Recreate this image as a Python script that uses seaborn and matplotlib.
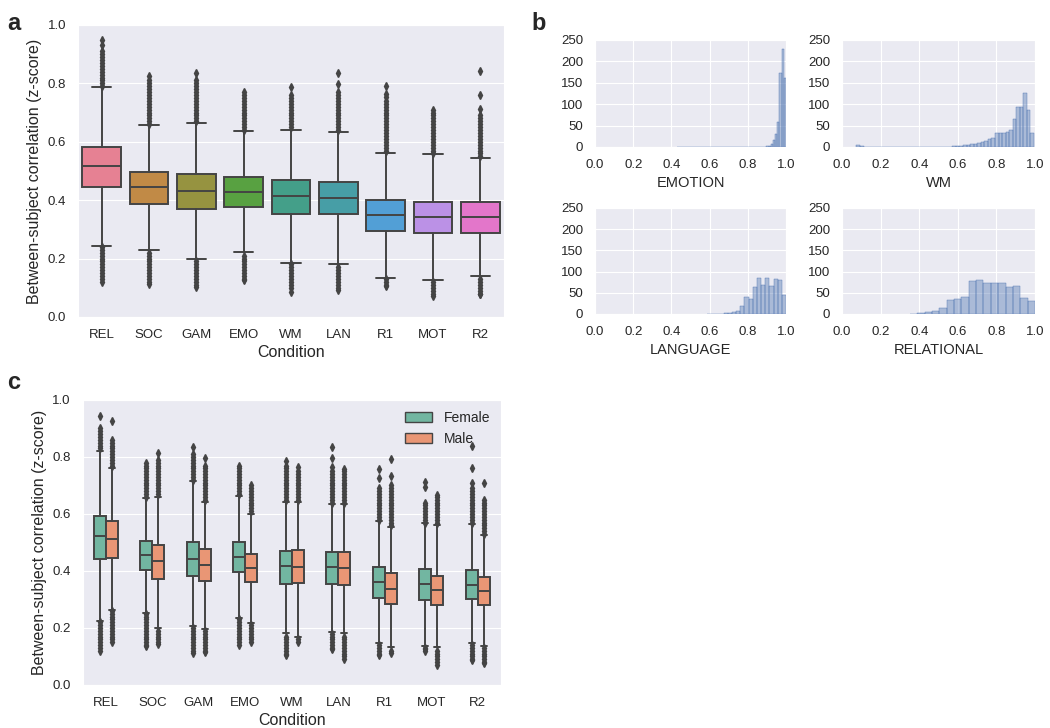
import numpy as np
import pandas as pd
import matplotlib
matplotlib.use("Agg")
import matplotlib.pyplot as plt
from matplotlib.patches import Patch
import seaborn as sns

# ---- panel a: box stats per condition ----
conditions = ["REL", "SOC", "GAM", "EMO", "WM", "LAN", "R1", "MOT", "R2"]
a_q1 = [0.446, 0.386, 0.370, 0.375, 0.354, 0.351, 0.295, 0.288, 0.289]
a_med = [0.518, 0.446, 0.431, 0.429, 0.414, 0.409, 0.349, 0.343, 0.341]
a_q3 = [0.583, 0.496, 0.489, 0.480, 0.469, 0.463, 0.402, 0.395, 0.393]
a_whislo = [0.242, 0.229, 0.200, 0.221, 0.185, 0.183, 0.135, 0.128, 0.139]
a_whishi = [0.786, 0.657, 0.663, 0.637, 0.640, 0.633, 0.563, 0.557, 0.546]
a_fliers_hi = [
    [0.79, 0.80, 0.81, 0.82, 0.83, 0.84, 0.85, 0.86, 0.87, 0.88, 0.89, 0.90, 0.91, 0.93, 0.95],
    [0.66, 0.67, 0.68, 0.69, 0.70, 0.71, 0.72, 0.73, 0.74, 0.75, 0.76, 0.77, 0.78, 0.79, 0.80, 0.81, 0.825],
    [0.67, 0.68, 0.69, 0.70, 0.71, 0.72, 0.73, 0.74, 0.75, 0.76, 0.77, 0.78, 0.79, 0.80, 0.81, 0.834],
    [0.64, 0.65, 0.66, 0.67, 0.68, 0.69, 0.70, 0.71, 0.72, 0.73, 0.74, 0.75, 0.76, 0.77],
    [0.65, 0.66, 0.67, 0.68, 0.69, 0.70, 0.71, 0.72, 0.73, 0.74, 0.75, 0.76, 0.786],
    [0.64, 0.65, 0.66, 0.67, 0.68, 0.69, 0.70, 0.71, 0.72, 0.73, 0.74, 0.75, 0.76, 0.77, 0.797, 0.834],
    [0.57, 0.58, 0.59, 0.60, 0.61, 0.62, 0.63, 0.64, 0.65, 0.66, 0.67, 0.68, 0.69, 0.70, 0.71, 0.72, 0.73, 0.74, 0.755, 0.765, 0.791],
    [0.56, 0.57, 0.58, 0.59, 0.60, 0.61, 0.62, 0.63, 0.64, 0.65, 0.66, 0.67, 0.68, 0.69, 0.70, 0.71],
    [0.55, 0.56, 0.57, 0.58, 0.59, 0.60, 0.61, 0.62, 0.63, 0.64, 0.65, 0.66, 0.67, 0.68, 0.69, 0.711, 0.76, 0.842],
]
a_fliers_lo = [
    [0.24, 0.23, 0.22, 0.21, 0.20, 0.19, 0.18, 0.17, 0.16, 0.15, 0.14, 0.13, 0.12],
    [0.22, 0.21, 0.20, 0.19, 0.18, 0.17, 0.16, 0.15, 0.14, 0.13, 0.12, 0.114],
    [0.19, 0.18, 0.17, 0.16, 0.15, 0.14, 0.13, 0.12, 0.11, 0.103],
    [0.21, 0.20, 0.19, 0.18, 0.17, 0.16, 0.15, 0.14, 0.13, 0.126],
    [0.18, 0.17, 0.16, 0.15, 0.14, 0.13, 0.12, 0.11, 0.10, 0.086],
    [0.17, 0.16, 0.15, 0.14, 0.13, 0.12, 0.11, 0.10, 0.094],
    [0.13, 0.12, 0.11, 0.106],
    [0.12, 0.11, 0.10, 0.09, 0.08, 0.071],
    [0.13, 0.12, 0.11, 0.10, 0.09, 0.08, 0.078],
]

# ---- panel b: histograms (bin start, bin width, counts) ----
emotion_start, emotion_width = 0.43, 0.0114
emotion_counts = [1, 0, 0, 0, 0, 0, 0, 0, 0, 0,
                  0, 0, 0, 0, 0, 1, 0, 0, 0, 0,
                  0, 0, 0, 0, 0, 0, 0, 1, 0, 0,
                  0, 1, 1, 0, 0, 1, 0, 1, 0, 0,
                  1, 2, 2, 6, 17, 31, 58, 173, 228, 162]
wm_start, wm_width = 0.075, 0.0184
wm_counts = [4, 3, 0, 0, 0, 0, 0, 0, 0, 0,
             0, 0, 0, 0, 0, 0, 0, 0, 0, 0,
             0, 0, 1, 0, 0, 0, 1, 2, 2, 3,
             4, 5, 6, 7, 10, 12, 15, 18, 22, 32,
             32, 32, 34, 40, 65, 94, 94, 125, 86, 33]
language_start, language_width = 0.586, 0.02179
language_counts = [1, 1, 0, 1, 2, 3, 4, 7, 18, 41, 35, 63, 86, 69, 86, 66, 82, 79, 45]
relational_start, relational_width = 0.352, 0.0381
relational_counts = [1, 2, 4, 6, 14, 33, 36, 40, 78, 80, 72, 73, 72, 63, 65, 37, 30]

# ---- panel c: box stats by sex ----
f_q1 = [0.443, 0.404, 0.384, 0.395, 0.353, 0.354, 0.306, 0.298, 0.302]
f_med = [0.523, 0.456, 0.442, 0.450, 0.418, 0.413, 0.361, 0.354, 0.352]
f_q3 = [0.593, 0.505, 0.503, 0.501, 0.471, 0.468, 0.415, 0.408, 0.404]
f_whislo = [0.225, 0.254, 0.207, 0.234, 0.181, 0.187, 0.146, 0.135, 0.149]
f_whishi = [0.822, 0.657, 0.716, 0.663, 0.643, 0.634, 0.577, 0.567, 0.565]
f_fliers_hi = [
    [0.83, 0.84, 0.85, 0.86, 0.87, 0.88, 0.89, 0.90, 0.945],
    [0.66, 0.67, 0.68, 0.69, 0.70, 0.71, 0.72, 0.73, 0.74, 0.75, 0.76, 0.77, 0.78],
    [0.72, 0.73, 0.74, 0.75, 0.76, 0.77, 0.78, 0.79, 0.80, 0.81, 0.836],
    [0.67, 0.68, 0.69, 0.70, 0.71, 0.72, 0.73, 0.74, 0.75, 0.76, 0.77],
    [0.65, 0.66, 0.67, 0.68, 0.69, 0.70, 0.71, 0.72, 0.73, 0.74, 0.75, 0.76, 0.77, 0.786],
    [0.64, 0.65, 0.66, 0.67, 0.68, 0.69, 0.70, 0.71, 0.72, 0.73, 0.74, 0.75, 0.764, 0.795, 0.834],
    [0.58, 0.59, 0.60, 0.61, 0.62, 0.63, 0.64, 0.65, 0.66, 0.67, 0.68, 0.69, 0.725, 0.757],
    [0.57, 0.58, 0.59, 0.60, 0.61, 0.62, 0.63, 0.64, 0.694, 0.711],
    [0.57, 0.58, 0.59, 0.60, 0.61, 0.62, 0.63, 0.64, 0.65, 0.66, 0.67, 0.68, 0.69, 0.708, 0.76, 0.839],
]
f_fliers_lo = [
    [0.22, 0.21, 0.20, 0.19, 0.18, 0.17, 0.16, 0.15, 0.14, 0.13, 0.12],
    [0.25, 0.24, 0.23, 0.22, 0.21, 0.20, 0.19, 0.18, 0.17, 0.16, 0.15, 0.14, 0.135],
    [0.20, 0.19, 0.18, 0.17, 0.16, 0.15, 0.14, 0.13, 0.12, 0.111],
    [0.23, 0.22, 0.21, 0.20, 0.19, 0.18, 0.17, 0.16, 0.15, 0.14],
    [0.17, 0.16, 0.15, 0.14, 0.13, 0.12, 0.11, 0.105],
    [0.18, 0.17, 0.16, 0.15, 0.14, 0.13, 0.125],
    [0.14, 0.13, 0.12, 0.11, 0.105],
    [0.13, 0.125, 0.12],
    [0.14, 0.13, 0.12, 0.11, 0.10, 0.09, 0.088],
]
m_q1 = [0.447, 0.372, 0.365, 0.363, 0.357, 0.350, 0.283, 0.281, 0.281]
m_med = [0.512, 0.435, 0.421, 0.412, 0.415, 0.412, 0.337, 0.333, 0.329]
m_q3 = [0.575, 0.491, 0.477, 0.461, 0.474, 0.465, 0.392, 0.384, 0.380]
m_whislo = [0.263, 0.199, 0.195, 0.219, 0.170, 0.181, 0.132, 0.132, 0.135]
m_whishi = [0.763, 0.661, 0.643, 0.600, 0.643, 0.634, 0.555, 0.561, 0.526]
m_fliers_hi = [
    [0.77, 0.78, 0.79, 0.80, 0.81, 0.82, 0.83, 0.84, 0.85, 0.86, 0.926],
    [0.67, 0.68, 0.69, 0.70, 0.71, 0.72, 0.73, 0.74, 0.75, 0.76, 0.77, 0.78, 0.79, 0.815],
    [0.65, 0.66, 0.67, 0.68, 0.69, 0.70, 0.71, 0.72, 0.73, 0.74, 0.75, 0.76, 0.77, 0.795],
    [0.61, 0.62, 0.63, 0.64, 0.65, 0.66, 0.67, 0.68, 0.69, 0.702],
    [0.65, 0.66, 0.67, 0.68, 0.69, 0.70, 0.71, 0.72, 0.73, 0.74, 0.75, 0.766],
    [0.64, 0.65, 0.66, 0.67, 0.68, 0.69, 0.70, 0.71, 0.72, 0.73, 0.74, 0.75, 0.758],
    [0.56, 0.57, 0.58, 0.59, 0.60, 0.61, 0.62, 0.63, 0.64, 0.65, 0.66, 0.67, 0.68, 0.69, 0.70, 0.733, 0.792],
    [0.57, 0.58, 0.59, 0.60, 0.61, 0.62, 0.63, 0.64, 0.65, 0.66, 0.667],
    [0.53, 0.54, 0.55, 0.56, 0.57, 0.58, 0.59, 0.60, 0.61, 0.62, 0.63, 0.64, 0.65, 0.708],
]
m_fliers_lo = [
    [0.26, 0.25, 0.24, 0.23, 0.22, 0.21, 0.20, 0.19, 0.18, 0.17, 0.16, 0.152],
    [0.19, 0.18, 0.17, 0.16, 0.15, 0.144],
    [0.19, 0.18, 0.17, 0.16, 0.15, 0.14, 0.13, 0.12, 0.117],
    [0.21, 0.20, 0.19, 0.18, 0.17, 0.16, 0.15],
    [0.16, 0.152],
    [0.17, 0.16, 0.15, 0.14, 0.13, 0.12, 0.11, 0.10, 0.09],
    [0.12, 0.111],
    [0.12, 0.11, 0.10, 0.09, 0.08, 0.07],
    [0.13, 0.12, 0.11, 0.10, 0.09, 0.08, 0.076],
]

sns.set_style("darkgrid")
plt.rcParams["font.family"] = ["Liberation Sans", "DejaVu Sans"]
plt.rcParams["xtick.major.pad"] = 5
plt.rcParams["ytick.major.pad"] = 5

line_col = "#444444"
a_colors = [sns.desaturate(c, 0.75) for c in sns.color_palette("husl", 9)]
sex_colors = [sns.desaturate(c, 0.75) for c in sns.color_palette("Set2", 2)]


def make_stats(q1, med, q3, lo, hi, fl_lo, fl_hi):
    stats = []
    for i in range(len(q1)):
        stats.append(dict(q1=q1[i], med=med[i], q3=q3[i], whislo=lo[i], whishi=hi[i],
                          fliers=np.array(fl_lo[i] + fl_hi[i])))
    return stats


def draw_boxes(ax, stats, positions, width, colors):
    out = ax.bxp(stats, positions=positions, widths=width, patch_artist=True,
                 manage_ticks=False,
                 boxprops=dict(edgecolor=line_col, linewidth=1.4),
                 medianprops=dict(color=line_col, linewidth=1.4),
                 whiskerprops=dict(color=line_col, linewidth=1.4),
                 capprops=dict(color=line_col, linewidth=1.4),
                 flierprops=dict(marker="d", markersize=4, markerfacecolor=line_col,
                                 markeredgecolor=line_col, linestyle="none"))
    for box, c in zip(out["boxes"], colors):
        box.set_facecolor(c)


def style_box_axes(ax):
    ax.set_xlim(-0.5, len(conditions) - 0.5)
    ax.set_ylim(0, 1.0)
    ax.set_xticks(range(len(conditions)))
    ax.set_xticklabels(conditions, fontsize=9.5)
    ax.set_yticks([0.0, 0.2, 0.4, 0.6, 0.8, 1.0])
    ax.set_yticklabels(["0.0", "0.2", "0.4", "0.6", "0.8", "1.0"], fontsize=9.5)
    ax.xaxis.grid(False)
    ax.set_xlabel("Condition", fontsize=11.5, labelpad=3)
    ax.set_ylabel("Between-subject correlation (z-score)", fontsize=11.5)


def draw_hist(ax, start, width, counts, label):
    edges = [start + width * k for k in range(len(counts) + 1)]
    df = pd.DataFrame({"value": [e + width / 2 for e in edges[:-1]], "count": counts})
    sns.histplot(data=df, x="value", weights="count", bins=edges, ax=ax, color="#4C72B0",
                 alpha=0.4, edgecolor="#4C72B0", linewidth=0.3)
    ax.set_xlim(0, 1)
    ax.set_ylim(0, 250)
    ax.set_xticks([0.0, 0.2, 0.4, 0.6, 0.8, 1.0])
    ax.set_xticklabels(["0.0", "0.2", "0.4", "0.6", "0.8", "1.0"], fontsize=9.5)
    ax.set_yticks([0, 50, 100, 150, 200, 250])
    ax.set_yticklabels(["0", "50", "100", "150", "200", "250"], fontsize=9.5)
    ax.set_xlabel(label, fontsize=10.5, labelpad=4)
    ax.set_ylabel("")


fig = plt.figure(figsize=(10.5, 7.28), dpi=100)

# panel a
ax_a = fig.add_axes([0.0743, 0.5646, 0.4057, 0.4011])
stats_a = make_stats(a_q1, a_med, a_q3, a_whislo, a_whishi, a_fliers_lo, a_fliers_hi)
draw_boxes(ax_a, stats_a, list(range(len(conditions))), 0.82, a_colors)
style_box_axes(ax_a)

# panel b
ax_b1 = fig.add_axes([0.5667, 0.7981, 0.1819, 0.1470])
ax_b2 = fig.add_axes([0.8019, 0.7981, 0.1838, 0.1470])
ax_b3 = fig.add_axes([0.5667, 0.5687, 0.1819, 0.1456])
ax_b4 = fig.add_axes([0.8019, 0.5687, 0.1838, 0.1456])
draw_hist(ax_b1, emotion_start, emotion_width, emotion_counts, "EMOTION")
draw_hist(ax_b2, wm_start, wm_width, wm_counts, "WM")
draw_hist(ax_b3, language_start, language_width, language_counts, "LANGUAGE")
draw_hist(ax_b4, relational_start, relational_width, relational_counts, "RELATIONAL")

# panel c
ax_c = fig.add_axes([0.0787, 0.0591, 0.3985, 0.3915])
stats_f = make_stats(f_q1, f_med, f_q3, f_whislo, f_whishi, f_fliers_lo, f_fliers_hi)
stats_m = make_stats(m_q1, m_med, m_q3, m_whislo, m_whishi, m_fliers_lo, m_fliers_hi)
pos = np.arange(len(conditions))
draw_boxes(ax_c, stats_f, list(pos - 0.13), 0.26, [sex_colors[0]] * len(conditions))
draw_boxes(ax_c, stats_m, list(pos + 0.13), 0.26, [sex_colors[1]] * len(conditions))
style_box_axes(ax_c)
handles = [Patch(facecolor=sex_colors[0], edgecolor=line_col, label="Female"),
           Patch(facecolor=sex_colors[1], edgecolor=line_col, label="Male")]
ax_c.legend(handles=handles, loc="upper right", frameon=False, fontsize=10,
            handlelength=2.0, handleheight=0.7, borderaxespad=0.4)

# panel letters
fig.text(0.007, 0.968, "a", fontsize=17, fontweight="bold", va="center")
fig.text(0.506, 0.968, "b", fontsize=17, fontweight="bold", va="center")
fig.text(0.007, 0.475, "c", fontsize=17, fontweight="bold", va="center")

fig.savefig("out.png", dpi=100)
